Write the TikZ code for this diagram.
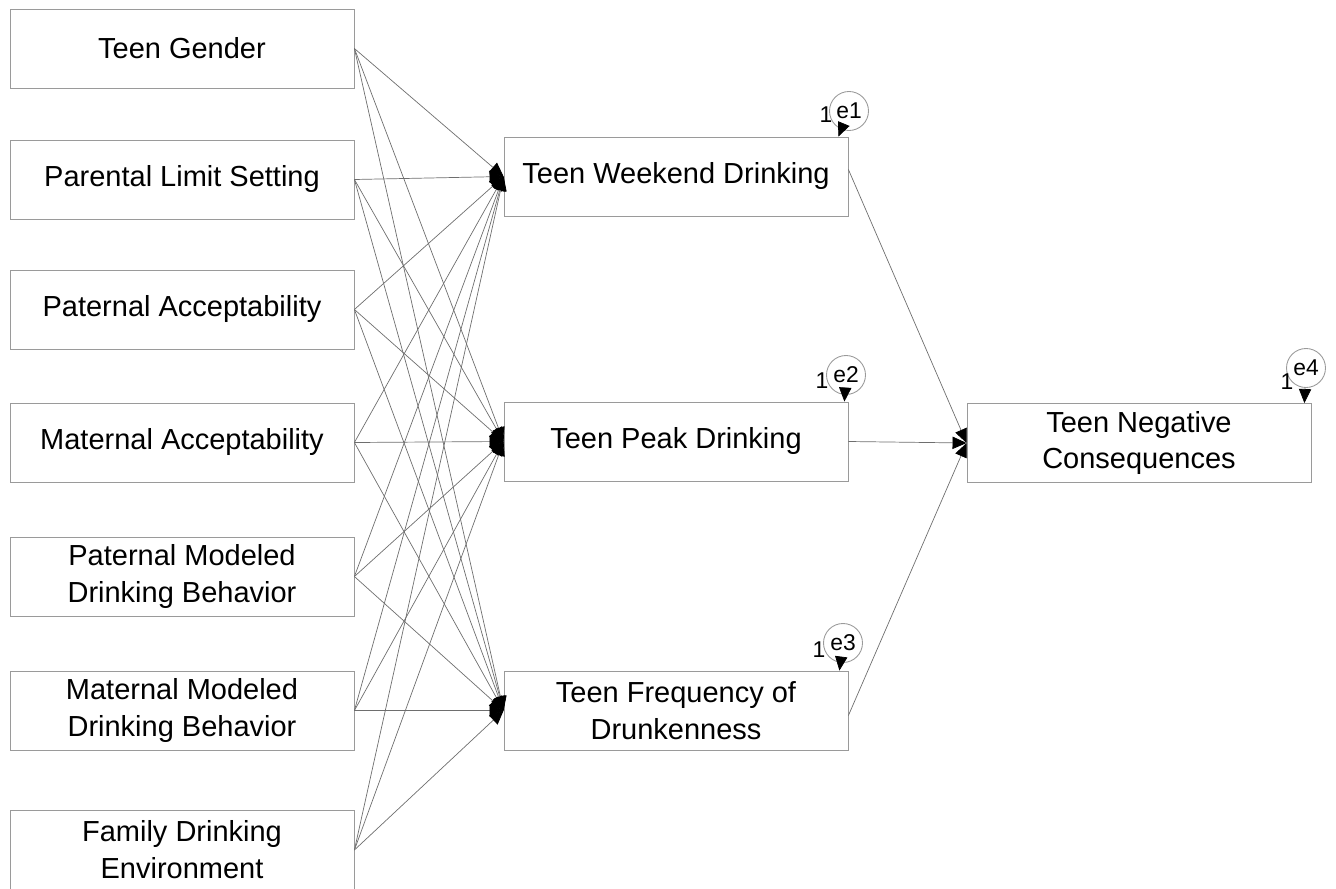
\documentclass[tikz,border=0pt]{standalone}
\usepackage{fontspec}
\setmainfont{Liberation Sans}
\usepackage{tikz}
\usetikzlibrary{calc, arrows.meta, positioning}
\definecolor{boxGray}{HTML}{9A9A9A}
\definecolor{lineGray}{HTML}{6E6E6E}

\tikzset{
  varBox/.style = {draw = boxGray, line width = 0.5pt, minimum width = 6.88cm,
    minimum height = 1.58cm, align = center, inner sep = 0pt,
    font = \fontsize{16.5}{21}\selectfont},
  errCircle/.style = {draw = boxGray, circle, line width = 0.5pt, minimum size = 0.78cm,
    inner sep = 0pt, font = \fontsize{13}{15}\selectfont},
  pathArrow/.style = {draw = lineGray, line width = 0.4pt,
    -{Triangle[length = 8pt, width = 7pt, black]}},
}

\begin{document}
\begin{tikzpicture}[x = 0.02cm, y = -0.02cm]
  \clip (0, 0) rectangle (1336, 889);

  % ----------------
  % exogenous boxes
  % ----------------
  \node[varBox] (gender) at (182, 48.5) {Teen Gender};
  \node[varBox] (limit)  at (182, 179.5) {Parental Limit Setting};
  \node[varBox] (patAcc) at (182, 309.5) {Paternal Acceptability};
  \node[varBox] (matAcc) at (182, 442.5) {Maternal Acceptability};
  \node[varBox] (patMod) at (182, 576.5) {Paternal Modeled\\Drinking Behavior};
  \node[varBox] (matMod) at (182, 710.5) {Maternal Modeled\\Drinking Behavior};
  \node[varBox] (famEnv) at (182, 850) {Family Drinking\\Environment};

  % ----------------
  % teen outcomes
  % ----------------
  \node[varBox] (weekend) at (676, 176.5) {Teen Weekend Drinking};
  \node[varBox] (peak)    at (676, 441.5) {Teen Peak Drinking};
  \node[varBox] (drunk)   at (676, 710.5) {Teen Frequency of\\Drunkenness};
  \node[varBox] (negCons) at (1139, 443) {Teen Negative\\Consequences};

  % error terms
  \node[errCircle] (e1) at (849, 111) {e1};
  \node[errCircle] (e2) at (846, 375) {e2};
  \node[errCircle] (e3) at (843, 643) {e3};
  \node[errCircle] (e4) at (1306, 368) {e4};

  \node[font = \fontsize{13}{15}\selectfont] (one1) at (826, 115) {1};
  \node[font = \fontsize{13}{15}\selectfont] (one2) at (822, 381) {1};
  \node[font = \fontsize{13}{15}\selectfont] (one3) at (819, 650) {1};
  \node[font = \fontsize{13}{15}\selectfont] (one4) at (1287, 382) {1};

  % ----------------
  % paths
  % ----------------
  \foreach \src in {gender, limit, patAcc, matAcc, patMod, matMod, famEnv} {
    \foreach \dst in {weekend, peak, drunk} {
      \draw[pathArrow] (\src.east) to (\dst.west);
    }
  }

  \draw[pathArrow] ($(weekend.east) + (0, -7)$) to (negCons.west);
  \draw[pathArrow] (peak.east) to (negCons.west);
  \draw[pathArrow] ($(drunk.east) + (0, 5)$) to (negCons.west);

  \draw[pathArrow] (e1) to ($(weekend.north east) + (-10, 0)$);
  \draw[pathArrow] (e2) to ($(peak.north east) + (-4, 0)$);
  \draw[pathArrow] (e3) to ($(drunk.north east) + (-9, 0)$);
  \draw[pathArrow] (e4) to ($(negCons.north east) + (-7, 0)$);
\end{tikzpicture}
\end{document}
